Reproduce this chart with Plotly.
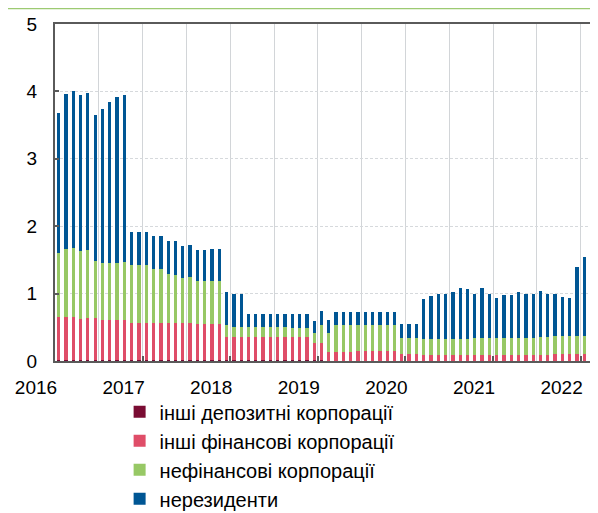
import plotly.graph_objects as go
import pandas as pd

# Monthly observations, April 2016 - May 2022
months = pd.date_range("2016-04-01", periods=74, freq="MS").strftime("%Y-%m").tolist()
x_idx = list(range(len(months)))

years = ["2016", "2017", "2018", "2019", "2020", "2021", "2022"]
year_tick_pos = [-0.5, 11.5, 23.5, 35.5, 47.5, 59.5, 71.5]

series_names = [
    "інші депозитні корпорації",
    "інші фінансові корпорації",
    "нефінансові корпорації",
    "нерезиденти",
]

other_deposit = [
    0.015, 0.015, 0.015, 0.015, 0.015, 0.015, 0.015, 0.015, 0.015, 0.015,
    0.015, 0.015, 0.015, 0.015, 0.015, 0.015, 0.015, 0.015, 0.015, 0.015,
    0.015, 0.015, 0.015, 0.015, 0.015, 0.015, 0.015, 0.015, 0.015, 0.015,
    0.015, 0.015, 0.015, 0.015, 0.015, 0.015, 0.015, 0.005, 0.005, 0.005,
    0.005, 0.005, 0.005, 0.005, 0.005, 0.005, 0.005, 0.005, 0.005, 0.005,
    0.005, 0.005, 0.005, 0.005, 0.005, 0.005, 0.005, 0.005, 0.005, 0.005,
    0.005, 0.005, 0.005, 0.005, 0.005, 0.005, 0.005, 0.005, 0.005, 0.005,
    0.005, 0.005, 0.005, 0.005,
]

other_financial = [
    0.645, 0.645, 0.635, 0.605, 0.625, 0.625, 0.595, 0.595, 0.595, 0.595,
    0.545, 0.545, 0.545, 0.545, 0.545, 0.545, 0.545, 0.545, 0.545, 0.535,
    0.535, 0.535, 0.535, 0.335, 0.335, 0.335, 0.335, 0.335, 0.34, 0.34,
    0.34, 0.34, 0.34, 0.34, 0.34, 0.255, 0.255, 0.125, 0.125, 0.125,
    0.125, 0.145, 0.145, 0.145, 0.145, 0.145, 0.145, 0.095, 0.095, 0.095,
    0.085, 0.085, 0.085, 0.085, 0.085, 0.085, 0.085, 0.085, 0.085, 0.085,
    0.085, 0.085, 0.085, 0.085, 0.085, 0.085, 0.085, 0.085, 0.095, 0.095,
    0.095, 0.095, 0.095, 0.095,
]

nonfinancial = [
    0.94, 1.00, 1.02, 1.01, 1.00, 0.84, 0.85, 0.85, 0.85, 0.86,
    0.86, 0.87, 0.87, 0.80, 0.80, 0.73, 0.72, 0.67, 0.69, 0.63,
    0.63, 0.63, 0.63, 0.19, 0.15, 0.15, 0.15, 0.15, 0.145, 0.145,
    0.145, 0.145, 0.135, 0.135, 0.135, 0.14, 0.26, 0.29, 0.40, 0.40,
    0.40, 0.38, 0.38, 0.38, 0.38, 0.38, 0.38, 0.24, 0.235, 0.235,
    0.24, 0.24, 0.24, 0.24, 0.24, 0.24, 0.24, 0.25, 0.25, 0.25,
    0.25, 0.25, 0.25, 0.25, 0.25, 0.25, 0.27, 0.27, 0.27, 0.27,
    0.27, 0.27, 0.27, 0.27,
]

nonresidents = [
    2.08, 2.30, 2.34, 2.32, 2.33, 2.17, 2.28, 2.39, 2.46, 2.47,
    0.50, 0.49, 0.49, 0.50, 0.50, 0.49, 0.50, 0.47, 0.47, 0.47,
    0.47, 0.48, 0.48, 0.48, 0.49, 0.49, 0.19, 0.19, 0.20, 0.20,
    0.20, 0.20, 0.21, 0.20, 0.20, 0.19, 0.21, 0.19, 0.20, 0.20,
    0.20, 0.20, 0.20, 0.20, 0.20, 0.20, 0.20, 0.205, 0.21, 0.21,
    0.59, 0.63, 0.67, 0.66, 0.69, 0.76, 0.74, 0.66, 0.75, 0.65,
    0.59, 0.64, 0.64, 0.68, 0.655, 0.66, 0.68, 0.63, 0.62, 0.585,
    0.57, 1.03, 1.17, 1.11,
]

colors = ["#7a0c33", "#df4d68", "#97c865", "#005694"]
series_values = [other_deposit, other_financial, nonfinancial, nonresidents]

fig = go.Figure()
for name, vals, col in zip(series_names, series_values, colors):
    fig.add_trace(go.Bar(
        x=x_idx, y=vals, name=name, width=0.45,
        marker=dict(color=col, line=dict(width=0)),
        customdata=months, legendgroup=name,
        hovertemplate="%{customdata}: %{y}<extra>" + name + "</extra>",
    ))

axis_col = "#5a5a5a"
grid_col = "#d2d5d8"

# the page body adds an 8px offset, so the figure is made 8px smaller
fig.update_layout(
    width=590, height=505,
    margin=dict(l=47, r=0, t=16, b=152, autoexpand=False),
    paper_bgcolor="white", plot_bgcolor="white",
    barmode="stack",
    font=dict(family="Liberation Sans, Arial, sans-serif", size=20, color="#000000"),
    legend=dict(
        orientation="v", x=0.119, y=-0.093, xanchor="left", yanchor="top",
        traceorder="grouped", tracegroupgap=0, bgcolor="rgba(0,0,0,0)",
        font=dict(size=20), itemwidth=30,
    ),
    xaxis=dict(
        range=[-0.5, 73.88], automargin=False,
        tickmode="array", tickvals=year_tick_pos, ticktext=years,
        tickfont=dict(size=19),
        ticks="inside", ticklen=5, tickwidth=2, tickcolor=axis_col,
        ticklabelshift=-19, ticklabelstandoff=8,
        showline=True, linecolor=axis_col, linewidth=2, mirror=True,
        showgrid=True, gridcolor=grid_col, gridwidth=1,
        minor=dict(tick0=-0.5, dtick=6, showgrid=True, gridcolor=grid_col, gridwidth=1, ticks=""),
        zeroline=False, fixedrange=True,
    ),
    yaxis=dict(
        range=[0, 5], dtick=1, tick0=0, automargin=False,
        tickfont=dict(size=19),
        ticks="inside", ticklen=4, tickwidth=1.5, tickcolor=axis_col,
        ticklabelstandoff=12,
        showline=True, linecolor=axis_col, linewidth=2,
        showgrid=True, gridcolor="#d6d9dc", gridwidth=1, griddash="3px,2px",
        zeroline=False,
    ),
    shapes=[dict(
        type="line", xref="paper", yref="paper",
        x0=-0.1, x1=1.02, y0=1.0475, y1=1.0475,
        line=dict(color="#9dca72", width=2.5),
    )],
)

fig.write_html("out.html")
